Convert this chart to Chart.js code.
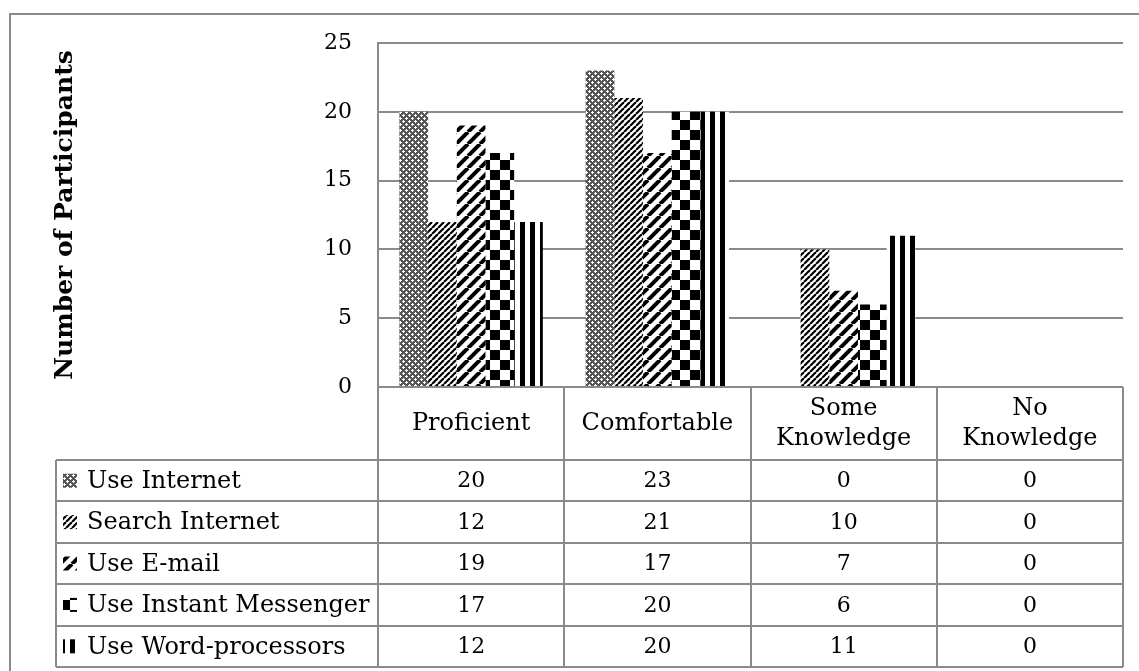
<!DOCTYPE html>
<html>
<head>
<meta charset="utf-8">
<script src="https://cdn.jsdelivr.net/npm/chart.js@4.4.0/dist/chart.umd.min.js"></script>
<style>
  html, body { margin: 0; padding: 0; background: #fff; }
  #wrap { width: 1139px; height: 671px; }
</style>
</head>
<body>
<div id="wrap"><canvas id="chart" width="1139" height="671"></canvas></div>
<script>
// data
var categories = [['Proficient'], ['Comfortable'], ['Some', 'Knowledge'], ['No', 'Knowledge']];
var seriesNames = ['Use Internet', 'Search Internet', 'Use E-mail', 'Use Instant Messenger', 'Use Word-processors'];
var useInternet = [20, 23, 0, 0];
var searchInternet = [12, 21, 10, 0];
var useEmail = [19, 17, 7, 0];
var useMessenger = [17, 20, 6, 0];
var useWord = [12, 20, 11, 0];
var yTicks = [0, 5, 10, 15, 20, 25];

var FONT = '"DejaVu Serif", "Liberation Serif", serif';
var LINE = '#8a8a8a';

// fill patterns, one per series
function makePattern(kind) {
  var c = document.createElement('canvas');
  var g = c.getContext('2d');
  if (kind == 'cross') {
    c.width = 6; c.height = 6;
    g.fillStyle = '#555'; g.fillRect(0, 0, 6, 6);
    g.fillStyle = '#fff';
    [[1, 1], [4, 4]].forEach(function(p) {
      g.fillRect(p[0] - 1, p[1], 3, 1);
      g.fillRect(p[0], p[1] - 1, 1, 3);
    });
  } else if (kind == 'fine') {
    c.width = 6; c.height = 6;
    g.fillStyle = '#fff'; g.fillRect(0, 0, 6, 6);
    g.strokeStyle = '#000'; g.lineWidth = 2.2;
    [-6, 0, 6].forEach(function(o) {
      g.beginPath(); g.moveTo(o, 6); g.lineTo(o + 6, 0); g.stroke();
    });
  } else if (kind == 'wide') {
    c.width = 12; c.height = 12;
    g.fillStyle = '#fff'; g.fillRect(0, 0, 12, 12);
    g.strokeStyle = '#000'; g.lineWidth = 4;
    [-12, 0, 12].forEach(function(o) {
      g.beginPath(); g.moveTo(o, 12); g.lineTo(o + 12, 0); g.stroke();
    });
  } else if (kind == 'checker') {
    c.width = 20; c.height = 20;
    g.fillStyle = '#fff'; g.fillRect(0, 0, 20, 20);
    g.fillStyle = '#000';
    g.fillRect(0, 0, 10, 10); g.fillRect(10, 10, 10, 10);
  } else {
    c.width = 10; c.height = 10;
    g.fillStyle = '#fff'; g.fillRect(0, 0, 10, 10);
    g.fillStyle = '#000'; g.fillRect(0, 0, 5, 10);
  }
  return g.createPattern(c, 'repeat');
}

var ctx = document.getElementById('chart').getContext('2d');
var patterns = [makePattern('cross'), makePattern('fine'), makePattern('wide'), makePattern('checker'), makePattern('vert')];
var values = [useInternet, searchInternet, useEmail, useMessenger, useWord];

var datasets = [];
for (var i = 0; i < seriesNames.length; i++) {
  datasets.push({
    label: seriesNames[i],
    data: values[i],
    backgroundColor: patterns[i],
    borderWidth: 0,
    categoryPercentage: 0.77,
    barPercentage: 1.0
  });
}

// data table under the plot, lined up with the x scale
var tablePlugin = {
  id: 'dataTable',
  afterDraw: function(chart) {
    var c = chart.ctx;
    var area = chart.chartArea;
    var x = chart.scales.x;
    var colW = (area.right - area.left) / categories.length;
    var headerH = 73, rowH = 41.4, legendLeft = 56;
    var top = area.bottom;
    var bottom = top + headerH + rowH * seriesNames.length;

    c.save();
    c.strokeStyle = LINE;
    c.lineWidth = 2;
    // outer frame (only top and left are inside the window)
    c.beginPath();
    c.moveTo(10, 671); c.lineTo(10, 14); c.lineTo(1139, 14);
    c.stroke();

    c.beginPath();
    for (var j = 0; j <= categories.length; j++) {
      var vx = Math.round(area.left + j * colW);
      c.moveTo(vx, top); c.lineTo(vx, bottom);
    }
    c.moveTo(legendLeft, top + headerH); c.lineTo(legendLeft, bottom);
    c.moveTo(area.left, top); c.lineTo(area.right, top);
    for (var r = 0; r <= seriesNames.length; r++) {
      var hy = Math.round(top + headerH + r * rowH);
      c.moveTo(legendLeft, hy); c.lineTo(area.right, hy);
    }
    c.stroke();

    c.fillStyle = '#000';
    c.font = '24px ' + FONT;
    c.textAlign = 'center';
    c.textBaseline = 'middle';
    categories.forEach(function(lines, k) {
      var cx = x.getPixelForValue(k);
      var cy = top + headerH / 2;
      lines.forEach(function(t, n) {
        c.fillText(t, cx, cy + (n - (lines.length - 1) / 2) * 30);
      });
    });

    for (var s = 0; s < seriesNames.length; s++) {
      var ry = top + headerH + s * rowH + rowH / 2;
      c.textAlign = 'center';
      c.font = '22px ' + FONT;
      for (var k = 0; k < categories.length; k++) {
        c.fillText(String(values[s][k]), x.getPixelForValue(k), ry + 1);
      }
      c.fillStyle = patterns[s];
      c.fillRect(63, ry - 7, 14, 14);
      c.fillStyle = '#000';
      c.textAlign = 'left';
      c.font = '24px ' + FONT;
      c.fillText(seriesNames[s], 87, ry + 1);
    }
    c.restore();
  }
};

new Chart(ctx, {
  type: 'bar',
  data: { labels: categories, datasets: datasets },
  options: {
    responsive: false,
    animation: false,
    devicePixelRatio: 1,
    layout: { padding: { left: 0, top: 43, right: 16, bottom: 284 } },
    plugins: { legend: { display: false }, tooltip: { enabled: false } },
    scales: {
      x: { display: false },
      y: {
        min: 0,
        max: 25,
        afterBuildTicks: function(s) { s.ticks = yTicks.map(function(v) { return { value: v }; }); },
        afterFit: function(s) { s.width = 378; },
        ticks: { color: '#000', padding: 26, font: { family: FONT, size: 22 } },
        grid: { color: LINE, lineWidth: 2, drawTicks: false },
        border: { display: true, color: LINE, width: 2 },
        title: {
          display: true,
          text: 'Number of Participants',
          color: '#000',
          padding: { top: 50, bottom: 0 },
          font: { family: FONT, size: 25, weight: 'bold' }
        }
      }
    }
  },
  plugins: [tablePlugin]
});
</script>
</body>
</html>
